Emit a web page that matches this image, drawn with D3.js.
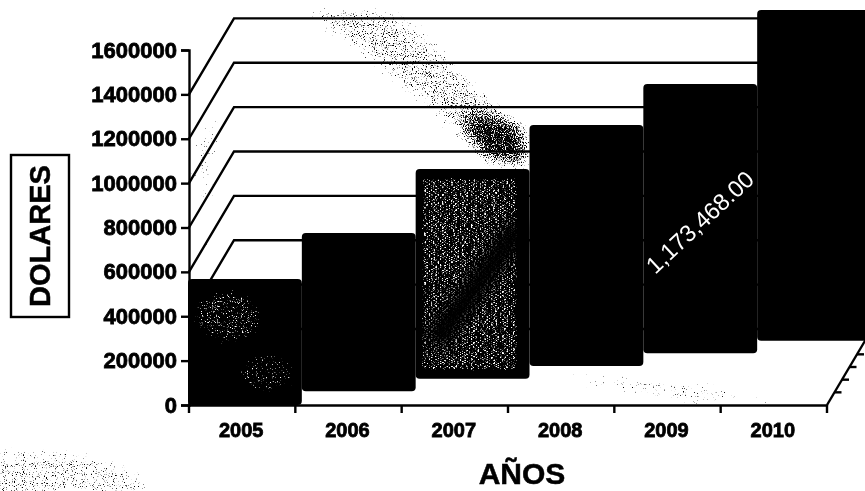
<!DOCTYPE html>
<html>
<head>
<meta charset="utf-8">
<script src="https://cdn.jsdelivr.net/npm/d3@7"></script>
<style>
  html, body { margin: 0; padding: 0; background: #fff; }
  svg { display: block; }
  text { font-family: "Liberation Sans", Arial, sans-serif; }
  .axis path, .axis line { stroke: #000; stroke-width: 2.4; }
  .axis text { font-weight: bold; fill: #000; stroke: #000; stroke-width: .8; }
</style>
</head>
<body>
<div id="chart"></div>
<script>
// values
const years = ["2005", "2006", "2007", "2008", "2009", "2010"];
const dolares = [568000, 718000, 950000, 1091000, 1218000, 1495000];
const barLabels = ["", "", "", "", "1,173,468.00", ""];
const yTicks = [0, 200000, 400000, 600000, 800000, 1000000, 1200000, 1400000, 1600000];
const gridValues = [0, 200000, 400000, 600000, 800000, 1000000, 1200000, 1400000];

const width = 865, height = 491;
const depthX = 45, depthY = -76;   // oblique offset of the back wall

const svg = d3.select("#chart").append("svg")
    .attr("width", width)
    .attr("height", height);

const defs = svg.append("defs");

// speckle filter: noise thresholded against a blurred shape, like a bad photocopy
function grain(id, color, freq, blur, seed) {
  const f = defs.append("filter")
      .attr("id", id)
      .attr("filterUnits", "userSpaceOnUse")
      .attr("x", 0).attr("y", 0)
      .attr("width", width).attr("height", height)
      .attr("color-interpolation-filters", "sRGB");
  f.append("feTurbulence")
      .attr("type", "fractalNoise")
      .attr("baseFrequency", freq)
      .attr("numOctaves", 2)
      .attr("seed", seed)
      .attr("result", "n");
  f.append("feColorMatrix")
      .attr("in", "n")
      .attr("type", "matrix")
      .attr("values", "0 0 0 0 0  0 0 0 0 0  0 0 0 0 0  1 0 0 0 0")
      .attr("result", "na");
  f.append("feGaussianBlur")
      .attr("in", "SourceAlpha")
      .attr("stdDeviation", blur)
      .attr("result", "d");
  f.append("feComposite")
      .attr("in", "d").attr("in2", "na")
      .attr("operator", "arithmetic")
      .attr("k1", 0).attr("k2", 1).attr("k3", 1).attr("k4", -1)
      .attr("result", "m");
  const t = f.append("feComponentTransfer").attr("in", "m").attr("result", "mm");
  t.append("feFuncA").attr("type", "linear").attr("slope", 7);
  f.append("feFlood").attr("flood-color", color).attr("result", "c");
  f.append("feComposite").attr("in", "c").attr("in2", "mm").attr("operator", "in");
}
grain("specks", "#000", 0.9, 9, 3);
grain("whiteSpecks", "#fff", 0.8, 5, 8);
grain("streaks", "#fff", "0.45 1", 1.5, 5);
defs.append("filter").attr("id", "soft")
    .attr("filterUnits", "userSpaceOnUse")
    .attr("x", 0).attr("y", 0)
    .attr("width", width).attr("height", height)
  .append("feGaussianBlur").attr("stdDeviation", 7);

const x = d3.scaleBand().domain(years).range([189, 827]);
const y = d3.scaleLinear().domain([0, 1600000]).range([405, 50]);
const depth = d3.scaleLinear().domain([0, 6]).range([0, 1]);

// paper specks behind everything
const paper = svg.append("g").attr("filter", "url(#specks)");
paper.append("ellipse").attr("cx", 25).attr("cy", 495).attr("rx", 135).attr("ry", 50).attr("opacity", .39);
paper.append("path").attr("d", "M290,2 L400,8 L520,120 L535,170 L470,150 L400,90 Z").attr("opacity", .42);
paper.append("path").attr("d", "M460,110 L530,125 L530,172 L480,165 Z").attr("opacity", .5);
paper.append("path").attr("d", "M530,372 L650,378 L815,403 L700,404 L590,388 Z").attr("opacity", .5);
paper.append("path").attr("d", "M192,150 L210,100 L225,130 L205,220 L215,270 L195,270 Z").attr("opacity", .38);

// back wall grid and left wall diagonals
const grid = svg.append("g").attr("stroke", "#000").attr("stroke-width", 2.4).attr("fill", "none");
grid.selectAll("path")
  .data(gridValues)
  .join("path")
    .attr("d", d => "M189," + y(d) + "L" + (189 + depthX) + "," + (y(d) + depthY) + "H" + width);

// floor edge on the right, with its depth ticks
const floor = svg.append("g").attr("stroke", "#000").attr("stroke-width", 2.4);
floor.append("line")
    .attr("x1", x.range()[1]).attr("y1", y(0))
    .attr("x2", x.range()[1] + depthX).attr("y2", y(0) + depthY);
floor.selectAll(".dtick")
  .data(d3.range(1, 6))
  .join("line")
    .attr("class", "dtick")
    .attr("x1", d => x.range()[1] + depthX * depth(d))
    .attr("x2", d => x.range()[1] + depthX * depth(d) + 7)
    .attr("y1", d => y(0) + depthY * depth(d))
    .attr("y2", d => y(0) + depthY * depth(d));

// axes
const yAxis = d3.axisLeft(y).tickValues(yTicks).tickSize(8).tickPadding(4).tickFormat(d3.format("d"));
svg.append("g")
    .attr("class", "axis")
    .attr("transform", "translate(189,0)")
    .call(yAxis)
    .call(g => g.selectAll("text").style("font-size", "22px"));

const xAxis = d3.axisBottom(x).tickSize(0).tickPadding(18).tickSizeOuter(0);
const xG = svg.append("g")
    .attr("class", "axis")
    .attr("transform", "translate(0," + y(0) + ")")
    .call(xAxis);
xG.selectAll("text").style("font-size", "20px").attr("dx", -1);
xG.selectAll(".edge")
  .data(x.domain().concat(["end"]))
  .join("line")
    .attr("class", "edge")
    .attr("x1", (d, i) => x.range()[0] + i * x.bandwidth())
    .attr("x2", (d, i) => x.range()[0] + i * x.bandwidth())
    .attr("y1", 0)
    .attr("y2", 8);

// bars, back to front; each year sits one step deeper than the last
const barW = x.bandwidth() + depthX * depth(1);
function barX(d, i) { return x(years[i]) + depthX * depth(i) - 1; }
function barBase(i) { return y(0) + depthY * depth(i) - (i ? 1 : 0); }
function barTop(d, i) { return y(d) + depthY * depth(i); }

const rows = dolares.map((d, i) => ({ d, i })).reverse();
svg.append("g").selectAll("rect")
  .data(rows)
  .join("rect")
    .attr("x", r => barX(r.d, r.i))
    .attr("y", r => barTop(r.d, r.i))
    .attr("width", barW)
    .attr("height", r => barBase(r.i) - barTop(r.d, r.i))
    .attr("rx", 4)
    .attr("fill", "#000");

// the 2007 bar is a washed out grey in the scan, with a dark band across it
const b7 = { x: barX(dolares[2], 2), y: barTop(dolares[2], 2), bottom: barBase(2) };
const tex = svg.append("g").attr("filter", "url(#streaks)");
tex.append("rect")
    .attr("x", b7.x + 6).attr("y", b7.y + 9)
    .attr("width", barW - 18)
    .attr("height", b7.bottom - b7.y - 17)
    .attr("opacity", .47);
svg.append("line")
    .attr("filter", "url(#soft)")
    .attr("x1", b7.x + 18).attr("y1", b7.bottom - 35)
    .attr("x2", b7.x + 106).attr("y2", b7.y + 55)
    .attr("stroke", "#000").attr("stroke-width", 26);

// faint white specks on the 2005 bar
const b5 = { x: barX(dolares[0], 0), y: barTop(dolares[0], 0) };
const sp = svg.append("g").attr("filter", "url(#whiteSpecks)");
sp.append("ellipse").attr("cx", b5.x + 40).attr("cy", b5.y + 38).attr("rx", 36).attr("ry", 28).attr("opacity", .4);
sp.append("ellipse").attr("cx", b5.x + 80).attr("cy", b5.y + 95).attr("rx", 30).attr("ry", 22).attr("opacity", .37);

// value label, rotated as in the source
svg.append("g").selectAll("text")
  .data(barLabels.map((t, i) => ({ t, i })).filter(r => r.t))
  .join("text")
    .attr("transform", r => "translate(" + (barX(dolares[r.i], r.i) + 62) + "," + (barTop(dolares[r.i], r.i) + 144) + ") rotate(-43)")
    .attr("text-anchor", "middle")
    .attr("fill", "#fff")
    .style("font-size", "23.5px")
    .text(r => r.t);

// axis titles
svg.append("text")
    .attr("x", 522).attr("y", 484)
    .attr("text-anchor", "middle")
    .attr("font-weight", "bold")
    .attr("stroke", "#000").attr("stroke-width", .5)
    .style("font-size", "30px")
    .text("AÑOS");

svg.append("rect")
    .attr("x", 11).attr("y", 155)
    .attr("width", 58).attr("height", 162)
    .attr("fill", "#fff").attr("stroke", "#000").attr("stroke-width", 2.4);
svg.append("text")
    .attr("transform", "translate(50,236) rotate(-90)")
    .attr("text-anchor", "middle")
    .attr("font-weight", "bold")
    .attr("stroke", "#000").attr("stroke-width", .5)
    .style("font-size", "29px")
    .text("DOLARES");
</script>
</body>
</html>
